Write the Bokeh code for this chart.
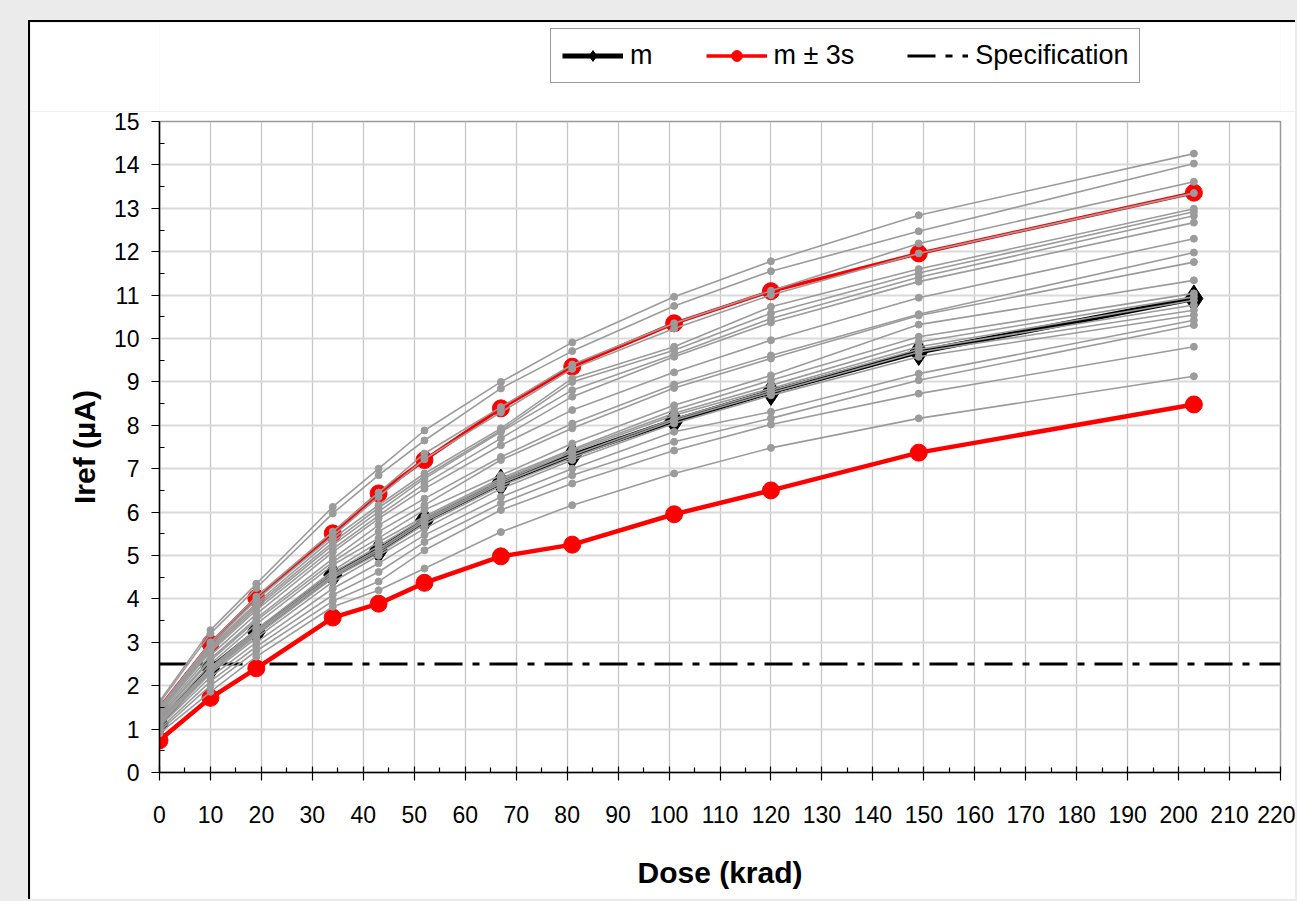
from bokeh.plotting import figure
from bokeh.models import Range1d, FixedTicker, Legend, LegendItem
from bokeh.layouts import column
from bokeh.embed import file_html
from bokeh.resources import INLINE

# ---------------- data ----------------
dose = [0, 10, 19, 34, 43, 52, 67, 81, 101, 120, 149, 203]
mean_m = [1.13, 2.40, 3.24, 4.55, 5.12, 5.81, 6.68, 7.31, 8.11, 8.77, 9.69, 10.92]
m_plus_3s = [1.49, 2.97, 4.02, 5.51, 6.43, 7.20, 8.39, 9.35, 10.35, 11.09, 11.96, 13.36]
m_minus_3s = [0.74, 1.72, 2.40, 3.57, 3.89, 4.37, 4.98, 5.25, 5.95, 6.50, 7.37, 8.48]
spec_value = 2.5

# individual devices: values at each dose (device order identical in each list)
iref_d0 = [1.64, 1.60, 1.50, 1.48, 1.45, 1.42, 1.40, 1.38, 1.34, 1.30, 1.28, 1.24, 1.20, 1.18, 1.16, 1.15, 1.13, 1.10, 1.06, 1.00, 0.95, 0.90]
iref_d10 = [3.28, 3.20, 3.00, 2.95, 2.90, 2.86, 2.82, 2.78, 2.70, 2.62, 2.58, 2.50, 2.42, 2.40, 2.37, 2.35, 2.32, 2.28, 2.20, 2.10, 2.00, 1.86]
iref_d19 = [4.35, 4.25, 4.05, 3.98, 3.90, 3.85, 3.80, 3.74, 3.65, 3.55, 3.50, 3.42, 3.30, 3.26, 3.22, 3.20, 3.16, 3.10, 3.00, 2.90, 2.80, 2.67]
iref_d34 = [6.12, 5.97, 5.55, 5.45, 5.39, 5.30, 5.24, 5.15, 5.08, 4.93, 4.85, 4.78, 4.65, 4.60, 4.55, 4.52, 4.48, 4.39, 4.24, 4.09, 3.95, 3.82]
iref_d43 = [7.00, 6.85, 6.45, 6.35, 6.16, 6.10, 6.01, 5.92, 5.85, 5.70, 5.55, 5.40, 5.31, 5.22, 5.15, 5.10, 5.05, 5.00, 4.82, 4.62, 4.40, 4.20]
iref_d52 = [7.88, 7.65, 7.35, 7.22, 6.89, 6.82, 6.77, 6.65, 6.54, 6.31, 6.16, 6.05, 5.90, 5.86, 5.82, 5.78, 5.72, 5.62, 5.47, 5.31, 5.12, 4.70]
iref_d67 = [9.00, 8.85, 8.42, 8.30, 7.93, 7.88, 7.85, 7.70, 7.54, 7.27, 7.20, 6.85, 6.78, 6.74, 6.70, 6.66, 6.60, 6.54, 6.35, 6.20, 6.05, 5.54]
iref_d81 = [9.91, 9.71, 9.40, 9.30, 9.08, 9.00, 8.81, 8.66, 8.35, 8.04, 7.93, 7.58, 7.45, 7.42, 7.38, 7.31, 7.25, 7.20, 7.00, 6.85, 6.66, 6.16]
iref_d101 = [10.96, 10.75, 10.35, 10.23, 9.81, 9.73, 9.63, 9.58, 9.22, 8.94, 8.86, 8.46, 8.35, 8.28, 8.23, 8.15, 8.11, 8.04, 7.85, 7.62, 7.42, 6.89]
iref_d120 = [11.78, 11.55, 11.10, 11.00, 10.73, 10.58, 10.46, 10.37, 9.96, 9.61, 9.54, 9.15, 9.04, 8.92, 8.85, 8.80, 8.75, 8.69, 8.31, 8.16, 8.02, 7.48]
iref_d149 = [12.84, 12.47, 12.19, 11.96, 11.60, 11.51, 11.41, 11.31, 10.94, 10.56, 10.53, 10.32, 10.04, 9.92, 9.81, 9.75, 9.69, 9.58, 9.19, 9.04, 8.73, 8.16]
iref_d203 = [14.26, 14.03, 13.61, 13.35, 12.99, 12.92, 12.83, 12.67, 12.30, 11.98, 11.76, 11.34, 11.04, 10.96, 10.88, 10.77, 10.65, 10.54, 10.42, 10.31, 9.81, 9.13]

x_ticks = list(range(0, 221, 10))
y_ticks = list(range(0, 16))
x_min, x_max = 0, 220
y_min, y_max = 0, 15

columns = [iref_d0, iref_d10, iref_d19, iref_d34, iref_d43, iref_d52, iref_d67,
           iref_d81, iref_d101, iref_d120, iref_d149, iref_d203]
devices = [list(vals) for vals in zip(*columns)]

FONT = "Liberation Sans"

# ---------------- main chart ----------------
p = figure(width=1267, height=788, x_range=Range1d(x_min, x_max), y_range=Range1d(y_min, y_max),
           output_backend="svg", toolbar_location=None,
           min_border_left=129, min_border_right=17, min_border_top=10, min_border_bottom=127)
p.border_fill_color = "white"
p.background_fill_color = "white"
p.outline_line_color = "#9a9a9a"
p.outline_line_width = 1.5

p.xgrid.ticker = FixedTicker(ticks=x_ticks)
p.ygrid.ticker = FixedTicker(ticks=y_ticks)
p.xgrid.grid_line_color = "#c6c6c6"
p.xgrid.grid_line_width = 1.3
p.ygrid.grid_line_color = "#dadada"
p.ygrid.grid_line_width = 2

p.xaxis.ticker = FixedTicker(ticks=x_ticks, minor_ticks=[t + 5 for t in x_ticks[:-1]])
p.yaxis.ticker = FixedTicker(ticks=y_ticks, minor_ticks=[t + 0.5 for t in y_ticks[:-1]])
for ax in (p.xaxis[0], p.yaxis[0]):
    ax.axis_line_color = "black"
    ax.axis_line_width = 1.5
    ax.major_tick_line_color = "black"
    ax.minor_tick_line_color = "black"
    ax.major_tick_line_width = 1.2
    ax.minor_tick_line_width = 1.2
    ax.major_label_text_font = FONT
    ax.major_label_text_font_size = "23px"
    ax.major_label_text_color = "black"
    ax.axis_label_text_font = FONT
    ax.axis_label_text_font_size = "30px"
    ax.axis_label_text_font_style = "bold"
    ax.axis_label_text_color = "black"

p.xaxis.major_tick_in = 6
p.xaxis.major_tick_out = 8
p.xaxis.minor_tick_in = 5
p.xaxis.minor_tick_out = 0
p.xaxis.major_label_standoff = 25
p.xaxis.axis_label = "Dose (krad)"
p.xaxis.axis_label_standoff = 30

p.yaxis.major_tick_in = 0
p.yaxis.major_tick_out = 8
p.yaxis.minor_tick_in = 5
p.yaxis.minor_tick_out = 0
p.yaxis.major_label_standoff = 12
p.yaxis.axis_label = "Iref (µA)"
p.yaxis.axis_label_standoff = 10

SPEC_STYLE = dict(line_color="black", line_width=3, line_dash="28 10 7 10")
UP_LINE = dict(line_color="#ff0000", line_width=3.5)
RED_DOT = dict(marker="circle", size=17, color="#ff0000")
M_LINE = dict(line_color="black", line_width=5)
M_DOT = dict(marker="diamond", size=27, color="black")

p.line(x=[x_min, x_max], y=[spec_value, spec_value], **SPEC_STYLE)
p.line(dose, m_plus_3s, **UP_LINE)
p.scatter(dose, m_plus_3s, **RED_DOT)
p.line(dose, m_minus_3s, line_color="#ff0000", line_width=4.5)
p.scatter(dose, m_minus_3s, **RED_DOT)
p.line(dose, mean_m, **M_LINE)
p.scatter(dose, mean_m, **M_DOT)

for vals in devices:
    p.line(dose, vals, line_color="#9b9b9b", line_width=1.6)
    p.scatter(dose, vals, marker="circle", size=7, color="#9b9b9b")

p.styles = {"border-left": "2px solid black"}

# ---------------- legend strip above the chart ----------------
# same series drawn outside the visible range, only their legend glyphs are shown
lg = figure(width=1267, height=91, x_range=Range1d(x_min, x_max), y_range=Range1d(-2 * y_max, -y_max),
            output_backend="svg", toolbar_location=None, x_axis_type=None, y_axis_type=None,
            min_border_left=0, min_border_right=0, min_border_top=0, min_border_bottom=0)
lg.border_fill_color = "white"
lg.background_fill_color = "white"
lg.outline_line_color = None
lg.grid.visible = False

l_m_l = lg.line(dose, mean_m, **M_LINE)
l_m_s = lg.scatter(dose, mean_m, **M_DOT)
l_up_l = lg.line(dose, m_plus_3s, **UP_LINE)
l_up_s = lg.scatter(dose, m_plus_3s, **RED_DOT)
l_spec = lg.line(x=[x_min, x_max], y=[spec_value, spec_value], **SPEC_STYLE)

legend = Legend(items=[
    LegendItem(label="m", renderers=[l_m_l, l_m_s]),
    LegendItem(label="m ± 3s", renderers=[l_up_l, l_up_s]),
    LegendItem(label="Specification", renderers=[l_spec]),
], location=(391, 30), orientation="horizontal")
legend.margin = 0
legend.padding = 11
legend.spacing = 53
legend.glyph_width = 61
legend.glyph_height = 27
legend.label_standoff = 7
legend.label_text_font = FONT
legend.label_text_font_size = "27px"
legend.label_text_color = "black"
legend.border_line_color = "#333333"
legend.border_line_width = 1.5
legend.background_fill_color = "white"
legend.background_fill_alpha = 1
lg.add_layout(legend, "center")

lg.styles = {"border-left": "2px solid black", "border-top": "2px solid black"}

layout = column(lg, p, width=1297, height=901, spacing=0,
                styles={"background-color": "#ebebeb", "padding-left": "28px",
                        "padding-top": "20px", "overflow": "hidden"})

open("out.html", "w").write(file_html(layout, INLINE))
